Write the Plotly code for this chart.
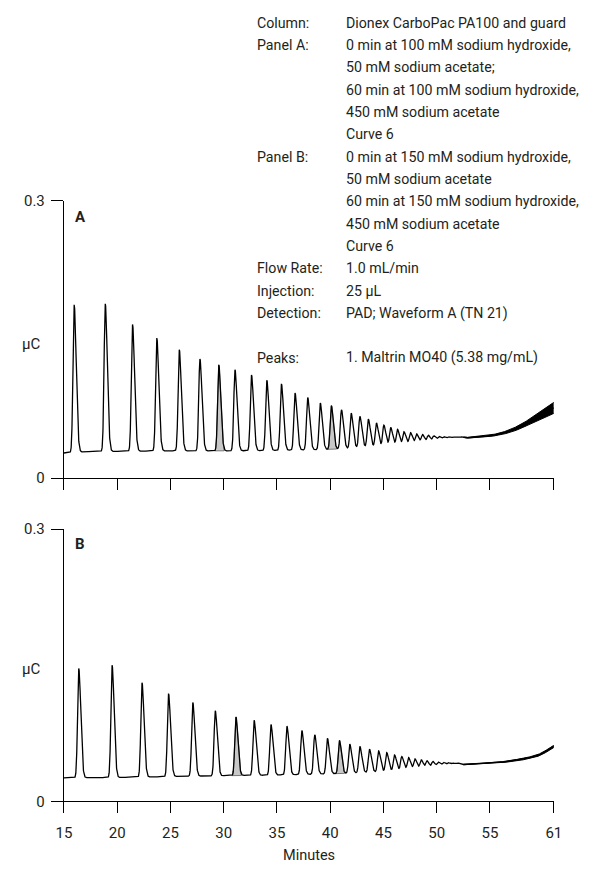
import numpy as np
import plotly.graph_objects as go

# ---------------- data ----------------
# Panel A: peak retention times (min) and apex heights (uC)
A_peak_t = [15.96, 18.88, 21.44, 23.72, 25.83, 27.77, 29.54, 31.06, 32.61, 34.05,
            35.42, 36.70, 37.89, 39.07, 40.11, 41.06, 41.97, 42.79, 43.58, 44.34,
            45.04, 45.68, 46.32, 46.93, 47.54, 48.12, 48.67, 49.21, 49.73, 50.22, 50.68,
            51.12, 51.55, 51.96, 52.36]
A_peak_h = [0.1876, 0.1887, 0.1664, 0.1516, 0.1390, 0.1290, 0.1226, 0.1173, 0.1116, 0.1060,
            0.1020, 0.0920, 0.0872, 0.0813, 0.0784, 0.0739, 0.0703, 0.0668, 0.0639, 0.0597,
            0.0572, 0.0548, 0.0527, 0.0501, 0.0491, 0.0477, 0.0470, 0.0463, 0.0456, 0.0450, 0.0446,
            0.0445, 0.0444, 0.0444, 0.0445]
A_shaded = [6, 14]
A_base_t = [15, 17, 20, 25, 30, 35, 40, 43, 45, 47, 49, 51, 53, 54, 55, 56, 57, 58, 59, 60, 61]
A_base_v = [0.0272, 0.0285, 0.0290, 0.0295, 0.0295, 0.0300, 0.0312, 0.0330, 0.0345,
            0.0362, 0.0388, 0.0418, 0.0438, 0.0447, 0.0458, 0.0480, 0.0515, 0.0565,
            0.0630, 0.0695, 0.0760]
A_band_t = [52.5, 54, 56, 58, 59.5, 61]
A_band_hw = [0.0003, 0.0006, 0.0010, 0.0022, 0.0035, 0.0060]

# Panel B
B_peak_t = [16.39, 19.52, 22.33, 24.82, 27.10, 29.21, 31.15, 32.86, 34.44, 35.94,
            37.34, 38.55, 39.74, 40.87, 41.84, 42.79, 43.69, 44.55, 45.31, 46.04,
            46.72, 47.36, 47.96, 48.55, 49.09, 49.64, 50.15, 50.64, 51.10, 51.54, 51.96]
B_peak_h = [0.1464, 0.1500, 0.1306, 0.1187, 0.1088, 0.0997, 0.0930, 0.0892, 0.0845, 0.0828,
            0.0780, 0.0734, 0.0694, 0.0670, 0.0630, 0.0605, 0.0574, 0.0554, 0.0536, 0.0510,
            0.0493, 0.0482, 0.0467, 0.0456, 0.0446, 0.0439, 0.0432, 0.0428, 0.0424, 0.0421, 0.0420]
B_shaded = [6, 13]
B_base_t = [15, 20, 27, 35, 40, 45, 48, 50, 52, 54, 56, 57, 58.4, 59.7, 61]
B_base_v = [0.0259, 0.0262, 0.0277, 0.0290, 0.0303, 0.0325, 0.0355, 0.0378, 0.0402,
            0.0413, 0.0430, 0.0445, 0.0472, 0.0515, 0.0605]
B_band_t = [52.5, 56, 61]
B_band_hw = [0.0003, 0.0005, 0.0012]

x_ticks = [15, 20, 25, 30, 35, 40, 45, 50, 55, 61]
y_ticks = [0, 0.3]
y_ticktext = ["0", "0.3"]

info_lines = [
    ("Column:", "Dionex CarboPac PA100 and guard"),
    ("Panel A:", "0 min at 100 mM sodium hydroxide,"),
    ("", "50 mM sodium acetate;"),
    ("", "60 min at 100 mM sodium hydroxide,"),
    ("", "450 mM sodium acetate"),
    ("", "Curve 6"),
    ("Panel B:", "0 min at 150 mM sodium hydroxide,"),
    ("", "50 mM sodium acetate"),
    ("", "60 min at 150 mM sodium hydroxide,"),
    ("", "450 mM sodium acetate"),
    ("", "Curve 6"),
    ("Flow Rate:", "1.0 mL/min"),
    ("Injection:", "25 µL"),
    ("Detection:", "PAD; Waveform A (TN 21)"),
    ("", ""),
    ("Peaks:", "1. Maltrin MO40 (5.38 mg/mL)"),
]

# ---------------- rendering ----------------
W, H = 591, 873
FONT = "Roboto, 'Liberation Sans', Arial, sans-serif"
TXT = "#231f20"
SIG_L, SIG_R = 0.11, 0.19

t = np.arange(15.0, 61.0 + 1e-9, 0.01)


def smooth_interp(tt, kt, kv):
    """Cubic Hermite curve through the knots (finite-difference slopes)."""
    kt = np.asarray(kt, float)
    kv = np.asarray(kv, float)
    n = len(kt)
    m = np.zeros(n)
    m[0] = (kv[1] - kv[0]) / (kt[1] - kt[0])
    m[-1] = (kv[-1] - kv[-2]) / (kt[-1] - kt[-2])
    for i in range(1, n - 1):
        m[i] = (kv[i + 1] - kv[i - 1]) / (kt[i + 1] - kt[i - 1])
    idx = np.clip(np.searchsorted(kt, tt) - 1, 0, n - 2)
    h = kt[idx + 1] - kt[idx]
    s = (tt - kt[idx]) / h
    h00 = 2 * s ** 3 - 3 * s ** 2 + 1
    h10 = s ** 3 - 2 * s ** 2 + s
    h01 = -2 * s ** 3 + 3 * s ** 2
    h11 = s ** 3 - s ** 2
    return h00 * kv[idx] + h10 * h * m[idx] + h01 * kv[idx + 1] + h11 * h * m[idx + 1]


def shape(tt, t0):
    d = tt - t0
    return np.where(d < 0, np.exp(-0.5 * (d / SIG_L) ** 2), np.exp(-0.5 * (d / SIG_R) ** 2))


def build(peak_t, peak_h, base_t, base_v):
    base = smooth_interp(t, base_t, base_v)
    y = base.copy()
    for t0, h in zip(peak_t, peak_h):
        amp = h - smooth_interp(np.array([t0]), base_t, base_v)[0]
        y += max(amp, 0) * shape(t, t0)
    return base, y


fig = go.Figure()


def add_panel(xa, ya, peak_t, peak_h, shaded, base_t, base_v, band_t, band_hw):
    base, y = build(peak_t, peak_h, base_t, base_v)
    for i in shaded:
        t0 = peak_t[i]
        m = (t >= t0 - 0.40) & (t <= t0 + 0.50)
        ts = t[m]
        xs = np.concatenate([ts, ts[::-1]])
        ys = np.concatenate([y[m], base[m][::-1]])
        fig.add_trace(go.Scatter(x=xs, y=ys, xaxis=xa, yaxis=ya, mode="lines",
                                 fill="toself", fillcolor="#c8c8c8",
                                 line=dict(color="#333", width=0.6), hoverinfo="skip",
                                 showlegend=False))
    fig.add_trace(go.Scatter(x=t, y=y, xaxis=xa, yaxis=ya, mode="lines",
                             line=dict(color="black", width=1.3), showlegend=False))
    m = t >= band_t[0]
    tb = t[m]
    hw = np.interp(tb, band_t, band_hw)
    fig.add_trace(go.Scatter(x=tb, y=y[m] - hw, xaxis=xa, yaxis=ya, mode="lines",
                             line=dict(color="black", width=1.0), showlegend=False))
    fig.add_trace(go.Scatter(x=tb, y=y[m] + hw, xaxis=xa, yaxis=ya, mode="lines",
                             fill="tonexty", fillcolor="black",
                             line=dict(color="black", width=1.0), showlegend=False))


add_panel("x", "y", A_peak_t, A_peak_h, A_shaded, A_base_t, A_base_v, A_band_t, A_band_hw)
add_panel("x2", "y2", B_peak_t, B_peak_h, B_shaded, B_base_t, B_base_v, B_band_t, B_band_hw)

x_dom = [57.5 / W, 561.0 / W]
A_dom = [1 - 479 / H, 1 - 196 / H]
B_dom = [1 - 809 / H, 1 - 531 / H]

tickfont = dict(family=FONT, size=15, color=TXT)
xcommon = dict(range=[15, 61], domain=x_dom, showline=True, linecolor="black", linewidth=1.3,
               ticks="outside", ticklen=11, tickwidth=1.3, tickcolor="black",
               tickvals=x_ticks, showgrid=False, zeroline=False, tickfont=tickfont,
               ticklabelstandoff=7)
ycommon = dict(range=[0, 0.3], showline=True, linecolor="black", linewidth=1.3,
               ticks="outside", ticklen=12, tickwidth=1.3, tickcolor="black",
               tickvals=y_ticks, ticktext=y_ticktext, showgrid=False, zeroline=False,
               tickfont=tickfont, ticklabelstandoff=3)

annotations = []


def px(x):
    return x / W


def py(y):
    return 1 - y / H


LINE0, LSTEP = 14, 22.8
INFO_SIZE = 14.2
for i, (lab, val) in enumerate(info_lines):
    yy = LINE0 + i * LSTEP
    if lab:
        annotations.append(dict(x=px(254), y=py(yy), xref="paper", yref="paper", text=lab,
                                showarrow=False, xanchor="left", yanchor="middle",
                                font=dict(family=FONT, size=INFO_SIZE, color=TXT)))
    if val:
        annotations.append(dict(x=px(345), y=py(yy), xref="paper", yref="paper", text=val,
                                showarrow=False, xanchor="left", yanchor="middle",
                                font=dict(family=FONT, size=INFO_SIZE, color=TXT)))

for txt, yy in (("A", 212), ("B", 546)):
    annotations.append(dict(x=px(67), y=py(yy), xref="paper", yref="paper", text="<b>%s</b>" % txt,
                            showarrow=False, xanchor="left", yanchor="middle",
                            font=dict(family=FONT, size=15, color=TXT)))
for yy in (342, 674):
    annotations.append(dict(x=px(24), y=py(yy), xref="paper", yref="paper", text="µC",
                            showarrow=False, xanchor="center", yanchor="middle",
                            font=dict(family=FONT, size=15, color=TXT)))
annotations.append(dict(x=px(309), y=py(864), xref="paper", yref="paper", text="Minutes",
                        showarrow=False, xanchor="center", yanchor="middle",
                        font=dict(family=FONT, size=14.5, color=TXT)))

fig.update_layout(
    width=W, height=H, margin=dict(l=0, r=0, t=0, b=0),
    paper_bgcolor="white", plot_bgcolor="white", showlegend=False,
    xaxis=dict(xcommon, anchor="y", showticklabels=False),
    yaxis=dict(ycommon, domain=A_dom, anchor="x"),
    xaxis2=dict(xcommon, anchor="y2"),
    yaxis2=dict(ycommon, domain=B_dom, anchor="x2"),
    annotations=annotations,
)

fig.write_html("out.html")
